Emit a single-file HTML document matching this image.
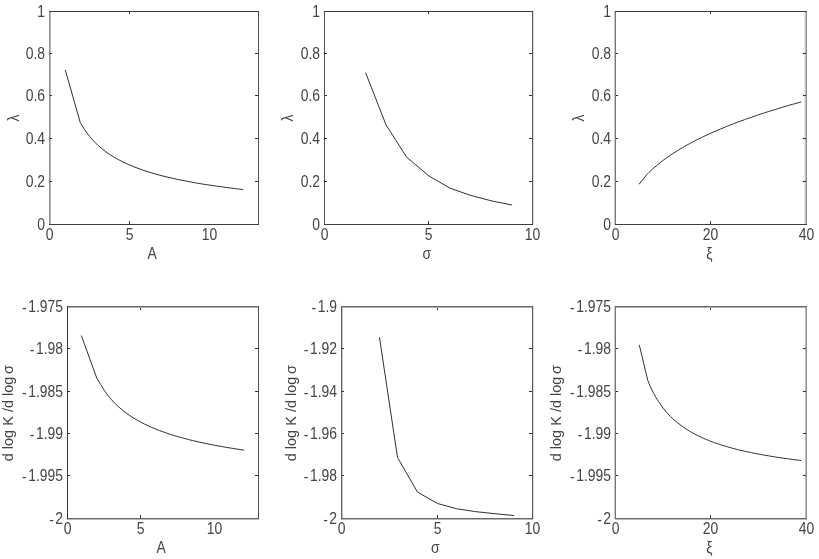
<!DOCTYPE html>
<html><head><meta charset="utf-8"><style>
html,body{margin:0;padding:0;background:#fff;width:819px;height:559px;overflow:hidden}
svg{display:block}
text{font-family:"Liberation Sans",sans-serif;font-size:16px;fill:#444}
</style></head><body>
<svg width="819" height="559" viewBox="0 0 819 559">
<filter id="bl" x="0" y="0" width="100%" height="100%"><feGaussianBlur stdDeviation="0.3"/></filter><g filter="url(#bl)"><rect width="819" height="559" fill="#fff"/>
<g shape-rendering="crispEdges"><rect x="804" y="11" width="1" height="214" fill="#e8e8e8"/><rect x="533" y="11" width="1" height="214" fill="#d8d8d8"/><rect x="533" y="306" width="1" height="213" fill="#d8d8d8"/><rect x="614" y="11" width="1" height="214" fill="#c8c8c8"/><rect x="342" y="306" width="1" height="213" fill="#c8c8c8"/><rect x="614" y="306" width="1" height="213" fill="#c8c8c8"/><rect x="805" y="11" width="1" height="214" fill="#c0c0c0"/><rect x="805" y="306" width="1" height="213" fill="#c0c0c0"/><rect x="50" y="11" width="1" height="214" fill="#b8b8b8"/><rect x="67" y="519" width="192" height="1" fill="#b8b8b8"/><rect x="341" y="519" width="192" height="1" fill="#b8b8b8"/><rect x="615" y="519" width="192" height="1" fill="#b8b8b8"/><rect x="67" y="307" width="192" height="1" fill="#b0b0b0"/><rect x="341" y="307" width="192" height="1" fill="#b0b0b0"/><rect x="615" y="307" width="192" height="1" fill="#b0b0b0"/><rect x="49" y="11" width="1" height="214" fill="#909090"/><rect x="806" y="11" width="1" height="214" fill="#909090"/><rect x="806" y="306" width="1" height="213" fill="#909090"/><rect x="615" y="11" width="1" height="214" fill="#777777"/><rect x="615" y="306" width="1" height="213" fill="#777777"/><rect x="67" y="306" width="192" height="1" fill="#6a6a6a"/><rect x="341" y="306" width="192" height="1" fill="#6a6a6a"/><rect x="615" y="306" width="192" height="1" fill="#6a6a6a"/><rect x="67" y="518" width="192" height="1" fill="#686868"/><rect x="341" y="518" width="192" height="1" fill="#686868"/><rect x="615" y="518" width="192" height="1" fill="#686868"/><rect x="341" y="306" width="1" height="213" fill="#606060"/><rect x="532" y="11" width="1" height="214" fill="#5a5a5a"/><rect x="532" y="306" width="1" height="213" fill="#5a5a5a"/><rect x="258" y="11" width="1" height="214" fill="#505050"/><rect x="324" y="11" width="1" height="214" fill="#505050"/><rect x="258" y="306" width="1" height="213" fill="#505050"/><rect x="49" y="11" width="210" height="1" fill="#3c3c3c"/><rect x="49" y="224" width="210" height="1" fill="#3c3c3c"/><rect x="324" y="11" width="209" height="1" fill="#3c3c3c"/><rect x="324" y="224" width="209" height="1" fill="#3c3c3c"/><rect x="615" y="11" width="192" height="1" fill="#3c3c3c"/><rect x="615" y="224" width="192" height="1" fill="#3c3c3c"/><rect x="67" y="306" width="1" height="213" fill="#383838"/><rect x="50" y="181" width="2" height="1" fill="#303030"/><rect x="255" y="181" width="3" height="1" fill="#303030"/><rect x="50" y="138" width="2" height="1" fill="#303030"/><rect x="255" y="138" width="3" height="1" fill="#303030"/><rect x="50" y="95" width="2" height="1" fill="#303030"/><rect x="255" y="95" width="3" height="1" fill="#303030"/><rect x="50" y="53" width="2" height="1" fill="#303030"/><rect x="255" y="53" width="3" height="1" fill="#303030"/><rect x="129" y="221" width="1" height="3" fill="#303030"/><rect x="129" y="12" width="1" height="2" fill="#303030"/><rect x="325" y="181" width="2" height="1" fill="#303030"/><rect x="529" y="181" width="3" height="1" fill="#303030"/><rect x="325" y="138" width="2" height="1" fill="#303030"/><rect x="529" y="138" width="3" height="1" fill="#303030"/><rect x="325" y="95" width="2" height="1" fill="#303030"/><rect x="529" y="95" width="3" height="1" fill="#303030"/><rect x="325" y="53" width="2" height="1" fill="#303030"/><rect x="529" y="53" width="3" height="1" fill="#303030"/><rect x="428" y="221" width="1" height="3" fill="#303030"/><rect x="428" y="12" width="1" height="2" fill="#303030"/><rect x="616" y="181" width="2" height="1" fill="#303030"/><rect x="803" y="181" width="3" height="1" fill="#303030"/><rect x="616" y="138" width="2" height="1" fill="#303030"/><rect x="803" y="138" width="3" height="1" fill="#303030"/><rect x="616" y="95" width="2" height="1" fill="#303030"/><rect x="803" y="95" width="3" height="1" fill="#303030"/><rect x="616" y="53" width="2" height="1" fill="#303030"/><rect x="803" y="53" width="3" height="1" fill="#303030"/><rect x="710" y="221" width="1" height="3" fill="#303030"/><rect x="710" y="12" width="1" height="2" fill="#303030"/><rect x="68" y="475" width="2" height="1" fill="#303030"/><rect x="255" y="475" width="3" height="1" fill="#303030"/><rect x="68" y="433" width="2" height="1" fill="#303030"/><rect x="255" y="433" width="3" height="1" fill="#303030"/><rect x="68" y="391" width="2" height="1" fill="#303030"/><rect x="255" y="391" width="3" height="1" fill="#303030"/><rect x="68" y="348" width="2" height="1" fill="#303030"/><rect x="255" y="348" width="3" height="1" fill="#303030"/><rect x="140" y="515" width="1" height="3" fill="#303030"/><rect x="140" y="308" width="1" height="2" fill="#303030"/><rect x="342" y="475" width="2" height="1" fill="#303030"/><rect x="529" y="475" width="3" height="1" fill="#303030"/><rect x="342" y="433" width="2" height="1" fill="#303030"/><rect x="529" y="433" width="3" height="1" fill="#303030"/><rect x="342" y="391" width="2" height="1" fill="#303030"/><rect x="529" y="391" width="3" height="1" fill="#303030"/><rect x="342" y="348" width="2" height="1" fill="#303030"/><rect x="529" y="348" width="3" height="1" fill="#303030"/><rect x="437" y="515" width="1" height="3" fill="#303030"/><rect x="437" y="308" width="1" height="2" fill="#303030"/><rect x="616" y="475" width="2" height="1" fill="#303030"/><rect x="803" y="475" width="3" height="1" fill="#303030"/><rect x="616" y="433" width="2" height="1" fill="#303030"/><rect x="803" y="433" width="3" height="1" fill="#303030"/><rect x="616" y="391" width="2" height="1" fill="#303030"/><rect x="803" y="391" width="3" height="1" fill="#303030"/><rect x="616" y="348" width="2" height="1" fill="#303030"/><rect x="803" y="348" width="3" height="1" fill="#303030"/><rect x="710" y="515" width="1" height="3" fill="#303030"/><rect x="710" y="308" width="1" height="2" fill="#303030"/></g>
<text transform="translate(49.50,240.00) scale(0.87,1)" text-anchor="middle">0</text>
<text transform="translate(129.50,240.00) scale(0.87,1)" text-anchor="middle">5</text>
<text transform="translate(209.50,240.00) scale(0.87,1)" text-anchor="middle">10</text>
<text transform="translate(45.00,230.00) scale(0.87,1)" text-anchor="end">0</text>
<text transform="translate(45.00,187.00) scale(0.87,1)" text-anchor="end">0.2</text>
<text transform="translate(45.00,144.00) scale(0.87,1)" text-anchor="end">0.4</text>
<text transform="translate(45.00,101.00) scale(0.87,1)" text-anchor="end">0.6</text>
<text transform="translate(45.00,59.00) scale(0.87,1)" text-anchor="end">0.8</text>
<text transform="translate(45.00,17.00) scale(0.87,1)" text-anchor="end">1</text>
<text transform="translate(152.25,259.00) scale(0.87,1)" text-anchor="middle">A</text>
<text transform="translate(324.50,240.00) scale(0.87,1)" text-anchor="middle">0</text>
<text transform="translate(428.50,240.00) scale(0.87,1)" text-anchor="middle">5</text>
<text transform="translate(532.50,240.00) scale(0.87,1)" text-anchor="middle">10</text>
<text transform="translate(320.00,230.00) scale(0.87,1)" text-anchor="end">0</text>
<text transform="translate(320.00,187.00) scale(0.87,1)" text-anchor="end">0.2</text>
<text transform="translate(320.00,144.00) scale(0.87,1)" text-anchor="end">0.4</text>
<text transform="translate(320.00,101.00) scale(0.87,1)" text-anchor="end">0.6</text>
<text transform="translate(320.00,59.00) scale(0.87,1)" text-anchor="end">0.8</text>
<text transform="translate(320.00,17.00) scale(0.87,1)" text-anchor="end">1</text>
<text transform="translate(426.75,259.00) scale(0.87,1)" text-anchor="middle">σ</text>
<text transform="translate(615.50,240.00) scale(0.87,1)" text-anchor="middle">0</text>
<text transform="translate(710.50,240.00) scale(0.87,1)" text-anchor="middle">20</text>
<text transform="translate(806.50,240.00) scale(0.87,1)" text-anchor="middle">40</text>
<text transform="translate(611.00,230.00) scale(0.87,1)" text-anchor="end">0</text>
<text transform="translate(611.00,187.00) scale(0.87,1)" text-anchor="end">0.2</text>
<text transform="translate(611.00,144.00) scale(0.87,1)" text-anchor="end">0.4</text>
<text transform="translate(611.00,101.00) scale(0.87,1)" text-anchor="end">0.6</text>
<text transform="translate(611.00,59.00) scale(0.87,1)" text-anchor="end">0.8</text>
<text transform="translate(611.00,17.00) scale(0.87,1)" text-anchor="end">1</text>
<text transform="translate(709.25,259.00) scale(0.87,1)" text-anchor="middle">ξ</text>
<text transform="translate(67.50,534.00) scale(0.87,1)" text-anchor="middle">0</text>
<text transform="translate(140.50,534.00) scale(0.87,1)" text-anchor="middle">5</text>
<text transform="translate(214.50,534.00) scale(0.87,1)" text-anchor="middle">10</text>
<text transform="translate(63.00,524.00) scale(0.87,1)" text-anchor="end"><tspan dy="0.7">-</tspan><tspan dx="1.7" dy="-0.7">2</tspan></text>
<text transform="translate(63.00,481.00) scale(0.87,1)" text-anchor="end"><tspan dy="0.7">-</tspan><tspan dx="1.7" dy="-0.7">1.995</tspan></text>
<text transform="translate(63.00,439.00) scale(0.87,1)" text-anchor="end"><tspan dy="0.7">-</tspan><tspan dx="1.7" dy="-0.7">1.99</tspan></text>
<text transform="translate(63.00,397.00) scale(0.87,1)" text-anchor="end"><tspan dy="0.7">-</tspan><tspan dx="1.7" dy="-0.7">1.985</tspan></text>
<text transform="translate(63.00,354.00) scale(0.87,1)" text-anchor="end"><tspan dy="0.7">-</tspan><tspan dx="1.7" dy="-0.7">1.98</tspan></text>
<text transform="translate(63.00,312.00) scale(0.87,1)" text-anchor="end"><tspan dy="0.7">-</tspan><tspan dx="1.7" dy="-0.7">1.975</tspan></text>
<text transform="translate(161.25,553.00) scale(0.87,1)" text-anchor="middle">A</text>
<text transform="translate(341.50,534.00) scale(0.87,1)" text-anchor="middle">0</text>
<text transform="translate(437.50,534.00) scale(0.87,1)" text-anchor="middle">5</text>
<text transform="translate(532.50,534.00) scale(0.87,1)" text-anchor="middle">10</text>
<text transform="translate(337.00,524.00) scale(0.87,1)" text-anchor="end"><tspan dy="0.7">-</tspan><tspan dx="1.7" dy="-0.7">2</tspan></text>
<text transform="translate(337.00,481.00) scale(0.87,1)" text-anchor="end"><tspan dy="0.7">-</tspan><tspan dx="1.7" dy="-0.7">1.98</tspan></text>
<text transform="translate(337.00,439.00) scale(0.87,1)" text-anchor="end"><tspan dy="0.7">-</tspan><tspan dx="1.7" dy="-0.7">1.96</tspan></text>
<text transform="translate(337.00,397.00) scale(0.87,1)" text-anchor="end"><tspan dy="0.7">-</tspan><tspan dx="1.7" dy="-0.7">1.94</tspan></text>
<text transform="translate(337.00,354.00) scale(0.87,1)" text-anchor="end"><tspan dy="0.7">-</tspan><tspan dx="1.7" dy="-0.7">1.92</tspan></text>
<text transform="translate(337.00,312.00) scale(0.87,1)" text-anchor="end"><tspan dy="0.7">-</tspan><tspan dx="1.7" dy="-0.7">1.9</tspan></text>
<text transform="translate(435.25,553.00) scale(0.87,1)" text-anchor="middle">σ</text>
<text transform="translate(615.50,534.00) scale(0.87,1)" text-anchor="middle">0</text>
<text transform="translate(710.50,534.00) scale(0.87,1)" text-anchor="middle">20</text>
<text transform="translate(806.50,534.00) scale(0.87,1)" text-anchor="middle">40</text>
<text transform="translate(611.00,524.00) scale(0.87,1)" text-anchor="end"><tspan dy="0.7">-</tspan><tspan dx="1.7" dy="-0.7">2</tspan></text>
<text transform="translate(611.00,481.00) scale(0.87,1)" text-anchor="end"><tspan dy="0.7">-</tspan><tspan dx="1.7" dy="-0.7">1.995</tspan></text>
<text transform="translate(611.00,439.00) scale(0.87,1)" text-anchor="end"><tspan dy="0.7">-</tspan><tspan dx="1.7" dy="-0.7">1.99</tspan></text>
<text transform="translate(611.00,397.00) scale(0.87,1)" text-anchor="end"><tspan dy="0.7">-</tspan><tspan dx="1.7" dy="-0.7">1.985</tspan></text>
<text transform="translate(611.00,354.00) scale(0.87,1)" text-anchor="end"><tspan dy="0.7">-</tspan><tspan dx="1.7" dy="-0.7">1.98</tspan></text>
<text transform="translate(611.00,312.00) scale(0.87,1)" text-anchor="end"><tspan dy="0.7">-</tspan><tspan dx="1.7" dy="-0.7">1.975</tspan></text>
<text transform="translate(709.25,553.00) scale(0.87,1)" text-anchor="middle">ξ</text>
<text transform="translate(18.85,118.00) rotate(-90) scale(0.87,1)" text-anchor="middle">λ</text>
<text transform="translate(293.30,118.00) rotate(-90) scale(0.87,1)" text-anchor="middle">λ</text>
<text transform="translate(584.20,118.00) rotate(-90) scale(0.87,1)" text-anchor="middle">λ</text>
<text transform="translate(13.00,413.20) rotate(-90) scale(1.0,1)" text-anchor="middle" style="font-size:14.5px">d log K /d log <tspan dx="-1.5">σ</tspan></text>
<text transform="translate(295.50,413.20) rotate(-90) scale(1.0,1)" text-anchor="middle" style="font-size:14.5px">d log K /d log <tspan dx="-1.5">σ</tspan></text>
<text transform="translate(561.25,413.20) rotate(-90) scale(1.0,1)" text-anchor="middle" style="font-size:14.5px">d log K /d log <tspan dx="-1.5">σ</tspan></text>
<polyline points="65.4,70.4 80.3,122.7 85.7,131.3 89.7,136.6 93.7,141.1 97.7,145.1 101.8,148.6 105.8,151.7 109.8,154.5 113.8,157.0 117.8,159.3 121.9,161.4 125.9,163.3 129.9,165.1 133.9,166.8 137.9,168.3 142.0,169.8 146.0,171.1 150.0,172.4 154.0,173.6 158.0,174.7 162.1,175.8 166.1,176.8 170.1,177.7 174.1,178.6 178.1,179.5 182.2,180.3 186.2,181.1 190.2,181.9 194.2,182.6 198.2,183.3 202.3,184.0 206.3,184.6 210.3,185.2 214.3,185.8 218.3,186.4 222.4,186.9 226.4,187.5 230.4,188.0 234.4,188.5 238.4,189.0 242.5,189.5" fill="none" stroke="#303030" stroke-width="1" stroke-linecap="square"/>
<polyline points="365.8,73.2 386.0,124.8 406.5,157.0 429.0,176.0 450.0,188.2 471.0,195.5 492.0,201.0 511.6,204.9" fill="none" stroke="#303030" stroke-width="1" stroke-linecap="square"/>
<polyline points="639.3,183.9 647.0,174.4 648.9,172.5 651.3,170.2 653.7,168.1 656.1,166.0 658.5,164.0 660.9,162.1 663.2,160.3 665.6,158.6 668.0,156.9 670.4,155.2 672.8,153.6 675.2,152.1 677.6,150.6 680.0,149.1 682.4,147.7 684.7,146.3 687.1,145.0 689.5,143.7 691.9,142.4 694.3,141.2 696.7,139.9 699.1,138.7 701.5,137.6 703.8,136.4 706.2,135.3 708.6,134.2 711.0,133.1 713.4,132.0 715.8,131.0 718.2,130.0 720.5,129.0 722.9,128.0 725.3,127.0 727.7,126.0 730.1,125.1 732.5,124.2 734.9,123.2 737.3,122.3 739.6,121.4 742.0,120.6 744.4,119.7 746.8,118.8 749.2,118.0 751.6,117.2 754.0,116.3 756.4,115.5 758.8,114.7 761.1,113.9 763.5,113.2 765.9,112.4 768.3,111.6 770.7,110.9 773.1,110.1 775.5,109.4 777.9,108.7 780.2,107.9 782.6,107.2 785.0,106.5 787.4,105.8 789.8,105.1 792.2,104.4 794.6,103.8 797.0,103.1 799.3,102.4 800.7,102.0" fill="none" stroke="#303030" stroke-width="1" stroke-linecap="square"/>
<polyline points="81.5,336.0 96.8,378.2 100.6,384.5 104.2,390.3 107.9,395.4 111.6,399.8 115.2,403.7 118.9,407.1 122.6,410.3 126.3,413.1 129.9,415.7 133.6,418.0 137.3,420.2 140.9,422.2 144.6,424.1 148.3,425.9 152.0,427.5 155.6,429.0 159.3,430.5 163.0,431.8 166.7,433.1 170.3,434.3 174.0,435.5 177.7,436.6 181.3,437.6 185.0,438.6 188.7,439.6 192.4,440.5 196.0,441.3 199.7,442.2 203.4,443.0 207.1,443.7 210.7,444.5 214.4,445.2 218.1,445.9 221.7,446.5 225.4,447.2 229.1,447.8 232.8,448.4 236.4,449.0 240.1,449.5 243.8,450.1" fill="none" stroke="#303030" stroke-width="1" stroke-linecap="square"/>
<polyline points="379.5,337.6 397.5,457.5 417.5,492.1 437.5,503.5 456.4,508.7 474.5,511.5 493.0,513.5 513.5,515.5" fill="none" stroke="#303030" stroke-width="1" stroke-linecap="square"/>
<polyline points="639.4,345.4 647.8,380.5 648.9,383.2 651.3,388.6 653.7,393.4 656.1,397.7 658.5,401.5 660.9,405.0 663.2,408.2 665.6,411.2 668.0,413.9 670.4,416.4 672.8,418.7 675.2,420.8 677.6,422.8 680.0,424.7 682.4,426.5 684.7,428.1 687.1,429.7 689.5,431.1 691.9,432.5 694.3,433.8 696.7,435.1 699.1,436.2 701.5,437.4 703.8,438.4 706.2,439.5 708.6,440.4 711.0,441.4 713.4,442.3 715.8,443.1 718.2,443.9 720.5,444.7 722.9,445.5 725.3,446.2 727.7,446.9 730.1,447.6 732.5,448.2 734.9,448.9 737.3,449.5 739.6,450.1 742.0,450.6 744.4,451.2 746.8,451.7 749.2,452.2 751.6,452.7 754.0,453.2 756.4,453.7 758.8,454.1 761.1,454.6 763.5,455.0 765.9,455.4 768.3,455.8 770.7,456.2 773.1,456.6 775.5,457.0 777.9,457.4 780.2,457.7 782.6,458.1 785.0,458.4 787.4,458.7 789.8,459.1 792.2,459.4 794.6,459.7 797.0,460.0 799.3,460.3 800.7,460.5" fill="none" stroke="#303030" stroke-width="1" stroke-linecap="square"/>
</g></svg></body></html>
